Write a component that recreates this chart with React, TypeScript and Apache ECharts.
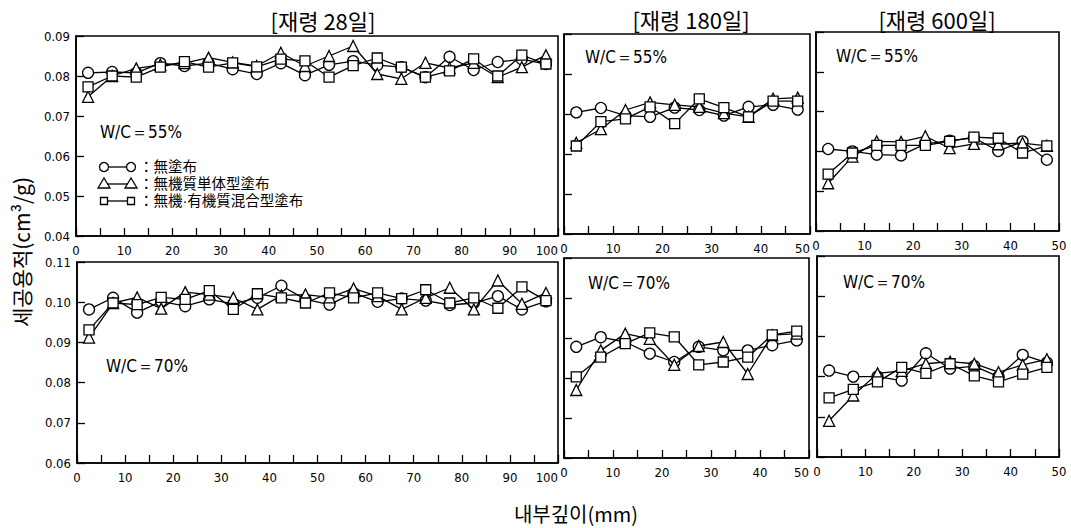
import React, { useEffect, useRef } from "react";
import * as echarts from "echarts";

// depths (mm)
const depth100 = [2.5, 7.5, 12.5, 17.5, 22.5, 27.5, 32.5, 37.5, 42.5, 47.5, 52.5, 57.5, 62.5, 67.5, 72.5, 77.5, 82.5, 87.5, 92.5, 97.5];
const depth50 = [2.5, 7.5, 12.5, 17.5, 22.5, 27.5, 32.5, 37.5, 42.5, 47.5];

// 28 days, W/C 55%
const d28w55None = [0.0808, 0.081, 0.0808, 0.0832, 0.0825, 0.0832, 0.0817, 0.0805, 0.0832, 0.0802, 0.0828, 0.0837, 0.0827, 0.0822, 0.0797, 0.0848, 0.0815, 0.0835, 0.0842, 0.083];
const d28w55Inorg = [0.0748, 0.08, 0.0819, 0.0828, 0.0832, 0.0846, 0.0834, 0.0825, 0.0858, 0.0825, 0.085, 0.0875, 0.0805, 0.0793, 0.0833, 0.082, 0.0833, 0.0797, 0.0822, 0.0852];
const d28w55Mixed = [0.0773, 0.08, 0.0797, 0.0822, 0.0836, 0.0822, 0.0833, 0.0823, 0.0842, 0.0838, 0.0797, 0.0826, 0.0845, 0.0822, 0.0797, 0.0813, 0.0843, 0.08, 0.0852, 0.083];
// 28 days, W/C 70%
const d28w70None = [0.0982, 0.1011, 0.0974, 0.1002, 0.099, 0.1007, 0.0996, 0.1011, 0.1041, 0.1007, 0.0994, 0.1023, 0.1001, 0.1009, 0.1004, 0.0993, 0.0998, 0.1015, 0.0982, 0.1002];
const d28w70Inorg = [0.0912, 0.0998, 0.1012, 0.0984, 0.1025, 0.1019, 0.1011, 0.0982, 0.1017, 0.1019, 0.1012, 0.1034, 0.1015, 0.0982, 0.1011, 0.1036, 0.0982, 0.1054, 0.0996, 0.1023];
const d28w70Mixed = [0.0931, 0.0998, 0.0994, 0.1012, 0.1007, 0.1029, 0.0982, 0.1021, 0.1011, 0.0998, 0.1023, 0.1011, 0.1023, 0.1009, 0.1031, 0.0998, 0.1011, 0.0985, 0.1038, 0.1004];
// 180 days
const d180w55None = [0.0704, 0.0715, 0.0696, 0.0693, 0.0716, 0.071, 0.0696, 0.0718, 0.0723, 0.0711];
const d180w55Inorg = [0.0628, 0.0662, 0.071, 0.0729, 0.0723, 0.0718, 0.0702, 0.0693, 0.0738, 0.0741];
const d180w55Mixed = [0.062, 0.0681, 0.0688, 0.0718, 0.0676, 0.0738, 0.0716, 0.0693, 0.0732, 0.0732];
const d180w70None = [0.0878, 0.0902, 0.089, 0.0861, 0.084, 0.0878, 0.0869, 0.0869, 0.0882, 0.0894];
const d180w70Inorg = [0.077, 0.0869, 0.0911, 0.0898, 0.0833, 0.088, 0.089, 0.081, 0.0907, 0.0911];
const d180w70Mixed = [0.0803, 0.0852, 0.0886, 0.0913, 0.0903, 0.0833, 0.084, 0.0852, 0.0908, 0.0917];
// 600 days
const d600w55None = [0.0606, 0.06, 0.0592, 0.059, 0.0619, 0.0627, 0.0634, 0.0601, 0.0625, 0.0579];
const d600w55Inorg = [0.052, 0.0587, 0.0625, 0.0624, 0.0638, 0.0608, 0.0619, 0.0618, 0.0621, 0.0614];
const d600w55Mixed = [0.0543, 0.0596, 0.0615, 0.0615, 0.0615, 0.0625, 0.0636, 0.0633, 0.0596, 0.0614];
const d600w70None = [0.0815, 0.08, 0.08, 0.079, 0.0858, 0.082, 0.0826, 0.08, 0.0854, 0.0835];
const d600w70Inorg = [0.069, 0.0753, 0.0808, 0.0814, 0.0832, 0.0837, 0.0832, 0.0811, 0.0829, 0.0843];
const d600w70Mixed = [0.0747, 0.0768, 0.0787, 0.0823, 0.0808, 0.0832, 0.0802, 0.0787, 0.0806, 0.0823];

const titles = ["[재령 28일]", "[재령 180일]", "[재령 600일]"];
const legendNames = ["：無塗布", "：無機質単体型塗布", "：無機·有機質混合型塗布"];
const yLabel = "세공용적(cm³/g)";
const xLabel = "내부깊이(mm)";

const NUM_FONT = "'Liberation Sans Narrow', 'DejaVu Sans Condensed', 'Liberation Sans', sans-serif";
const CJK_FONT = "'Noto Sans CJK KR', 'Noto Sans CJK JP', sans-serif";
const LEG_FONT = "'Liberation Sans', 'Noto Sans CJK JP', 'Noto Sans CJK KR', sans-serif";

export default function App() {
  const ref = useRef<HTMLDivElement>(null);
  useEffect(() => {
    if (!ref.current) return;
    const chart = echarts.init(ref.current, null, { renderer: "svg" });

    const grids = [
      { left: 76, top: 36, width: 482, height: 200 },
      { left: 564, top: 34, width: 246, height: 200 },
      { left: 816, top: 32, width: 243, height: 199 },
      { left: 77, top: 262, width: 481, height: 201 },
      { left: 564, top: 258, width: 245, height: 200 },
      { left: 817, top: 256, width: 242, height: 201 },
    ].map((g) => ({ ...g, show: true, borderColor: "#000", borderWidth: 1.6, backgroundColor: "transparent" }));

    const xMax = [100, 50, 50, 100, 50, 50];
    const alignMax = ["right", "right", "center", "right", "right", "center"];
    const xAxes = xMax.map((mx, i) => ({
      type: "value",
      gridIndex: i,
      min: 0,
      max: mx,
      interval: 5,
      axisLine: { show: true, lineStyle: { color: "#000", width: 1.6 } },
      axisTick: { show: true, inside: true, length: 8, lineStyle: { color: "#000", width: 1.3 } },
      splitLine: { show: false },
      axisLabel: {
        color: "#000",
        fontFamily: NUM_FONT,
        fontSize: 13,
        margin: 8,
        alignMaxLabel: alignMax[i],
        formatter: (v: number) => (Math.round(v) % 10 === 0 ? String(Math.round(v)) : ""),
      },
    }));

    const yAxes = [0, 1, 2, 3, 4, 5].map((i) => ({
      type: "value",
      gridIndex: i,
      min: i < 3 ? 0.04 : 0.06,
      max: i < 3 ? 0.09 : 0.11,
      interval: 0.01,
      axisLine: { show: true, lineStyle: { color: "#000", width: 1.6 } },
      axisTick: { show: true, inside: true, length: 8, lineStyle: { color: "#000", width: 1.3 } },
      splitLine: { show: false },
      axisLabel: {
        show: i === 0 || i === 3,
        color: "#000",
        fontFamily: NUM_FONT,
        fontSize: 13,
        margin: 6,
        formatter: (v: number) => v.toFixed(2),
      },
    }));

    const panels = [
      { x: depth100, data: [d28w55None, d28w55Inorg, d28w55Mixed] },
      { x: depth50, data: [d180w55None, d180w55Inorg, d180w55Mixed] },
      { x: depth50, data: [d600w55None, d600w55Inorg, d600w55Mixed] },
      { x: depth100, data: [d28w70None, d28w70Inorg, d28w70Mixed] },
      { x: depth50, data: [d180w70None, d180w70Inorg, d180w70Mixed] },
      { x: depth50, data: [d600w70None, d600w70Inorg, d600w70Mixed] },
    ];
    const symbols = [
      { symbol: "circle", size: 11 },
      { symbol: "triangle", size: 11 },
      { symbol: "rect", size: 10 },
    ];

    const series: any[] = [];
    panels.forEach((p, gi) => {
      p.data.forEach((vals, si) => {
        series.push({
          type: "line",
          name: legendNames[si],
          xAxisIndex: gi,
          yAxisIndex: gi,
          data: vals.map((v, k) => [p.x[k], v]),
          symbol: symbols[si].symbol,
          symbolSize: symbols[si].size,
          showAllSymbol: true,
          lineStyle: { color: "#000", width: 1.3 },
          itemStyle: { color: "#fff", borderColor: "#000", borderWidth: 1.3 },
          z: 2 + si,
        });
      });
    });

    const txt = (x: number, y: number, text: string, font: string, size: number, extra: any = {}) => ({
      type: "text",
      x,
      y,
      style: { text, fontFamily: font, fontSize: size, fill: "#000", ...extra },
    });

    const graphic: any[] = [
      txt(323, 20, titles[0], CJK_FONT, 22, { textAlign: "center", textVerticalAlign: "middle" }),
      txt(691, 19, titles[1], CJK_FONT, 22, { textAlign: "center", textVerticalAlign: "middle" }),
      txt(937, 19, titles[2], CJK_FONT, 22, { textAlign: "center", textVerticalAlign: "middle" }),
      {
        type: "text",
        x: 21,
        y: 252,
        rotation: Math.PI / 2,
        style: { text: yLabel, fontFamily: CJK_FONT, fontSize: 21, fill: "#000", textAlign: "center", textVerticalAlign: "middle" },
      },
      txt(576, 513, xLabel, CJK_FONT, 20, { textAlign: "center", textVerticalAlign: "middle" }),
      txt(100, 132, "W/C＝55%", NUM_FONT, 17, { textVerticalAlign: "middle" }),
      txt(585, 57, "W/C＝55%", NUM_FONT, 17, { textVerticalAlign: "middle" }),
      txt(836, 56, "W/C＝55%", NUM_FONT, 17, { textVerticalAlign: "middle" }),
      txt(106, 366, "W/C＝70%", NUM_FONT, 17, { textVerticalAlign: "middle" }),
      txt(588, 283, "W/C＝70%", NUM_FONT, 17, { textVerticalAlign: "middle" }),
      txt(843, 282, "W/C＝70%", NUM_FONT, 17, { textVerticalAlign: "middle" }),
    ];

    const legY = [167, 184, 201];
    legY.forEach((y, i) => {
      graphic.push({ type: "line", shape: { x1: 104, y1: y, x2: 131, y2: y }, style: { stroke: "#000", lineWidth: 1.3 } });
      [104, 131].forEach((cx) => {
        if (i === 0) {
          graphic.push({ type: "circle", shape: { cx, cy: y, r: 4.5 }, style: { fill: "#fff", stroke: "#000", lineWidth: 1.3 } });
        } else if (i === 1) {
          graphic.push({
            type: "polygon",
            shape: { points: [[cx, y - 6], [cx - 6, y + 4], [cx + 6, y + 4]] },
            style: { fill: "#fff", stroke: "#000", lineWidth: 1.3 },
          });
        } else {
          graphic.push({ type: "rect", shape: { x: cx - 3.5, y: y - 3.5, width: 7, height: 7 }, style: { fill: "#fff", stroke: "#000", lineWidth: 1.3 } });
        }
      });
      graphic.push(txt(139, y, legendNames[i], LEG_FONT, 14.5, { textVerticalAlign: "middle", lineHeight: 15 }));
    });

    chart.setOption({
      animation: false,
      backgroundColor: "#fff",
      grid: grids,
      xAxis: xAxes,
      yAxis: yAxes,
      series,
      graphic,
    });
    return () => chart.dispose();
  }, []);
  return <div ref={ref} style={{ position: "fixed", left: 0, top: 0, width: 1071, height: 528 }} />;
}
